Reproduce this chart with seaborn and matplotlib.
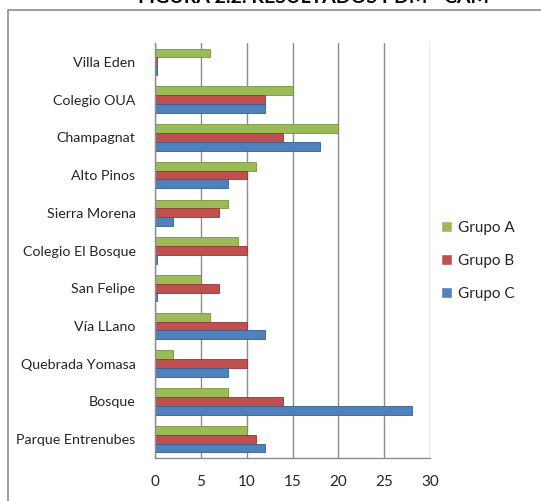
import matplotlib
matplotlib.use("Agg")
import matplotlib.pyplot as plt
import seaborn as sns
import pandas as pd
from matplotlib.patches import Rectangle

categories = ["Villa Eden", "Colegio OUA", "Champagnat", "Alto Pinos", "Sierra Morena",
              "Colegio El Bosque", "San Felipe", "Vía LLano", "Quebrada Yomasa",
              "Bosque", "Parque Entrenubes"]
grupo_a = [6, 15, 20, 11, 8, 9, 5, 6, 2, 8, 10]
grupo_b = [0.2, 12, 14, 10, 7, 10, 7, 10, 10, 14, 11]
grupo_c = [0.2, 12, 18, 8, 2, 0.2, 0.2, 12, 8, 28, 12]
series_names = ["Grupo A", "Grupo B", "Grupo C"]
x_ticks = [0, 5, 10, 15, 20, 25, 30]
title = "FIGURA 2.2. RESULTADOS PDM - CAM"

rows = []
for name, vals in zip(series_names, [grupo_a, grupo_b, grupo_c]):
    for c, v in zip(categories, vals):
        rows.append({"Sitio": c, "Valor": v, "Grupo": name})
df = pd.DataFrame(rows)

sns.set_theme(style="white")
plt.rcParams["font.family"] = ["Lato", "DejaVu Sans"]

colors = {"Grupo A": "#9BBB59", "Grupo B": "#C0504D", "Grupo C": "#4F81BD"}
edges = {"Grupo A": "#76923C", "Grupo B": "#943634", "Grupo C": "#365F91"}

fig = plt.figure(figsize=(5.41, 5.01), dpi=100)
ax = fig.add_axes([155 / 541, 1 - 458 / 501, (430 - 155) / 541, (458 - 43) / 501])

sns.barplot(data=df, y="Sitio", x="Valor", hue="Grupo", order=categories,
            hue_order=series_names, palette=colors, orient="h", width=0.7,
            ax=ax, legend=True, saturation=1)

for cont, name in zip(ax.containers, series_names):
    for bar in cont:
        bar.set_edgecolor(edges[name])
        bar.set_linewidth(0.6)

ax.set_xlim(0, 30)
ax.set_xticks(x_ticks)
ax.set_xticklabels([str(t) for t in x_ticks], fontsize=11)
ax.set_ylim(len(categories) - 0.5, -0.5)
ax.set_xlabel("")
ax.set_ylabel("")
ax.tick_params(axis="y", length=0, labelsize=10.3, pad=14)
ax.tick_params(axis="x", length=4, color="#888888", labelsize=11, pad=8)
ax.xaxis.grid(True, color="#8c8c8c", linewidth=1.0)
ax.set_axisbelow(True)
for s in ["top", "right"]:
    ax.spines[s].set_visible(False)
for s in ["left", "bottom"]:
    ax.spines[s].set_color("#8c8c8c")
    ax.spines[s].set_linewidth(1.0)
ax.set_yticks([i + 0.5 for i in range(-1, len(categories))], minor=True)
ax.tick_params(axis="y", which="minor", length=5, color="#8c8c8c", direction="out")

leg = ax.legend(loc="center left", bbox_to_anchor=(0.99, 0.475), frameon=False,
                fontsize=11, handlelength=0.7, handleheight=0.7,
                handletextpad=0.4, labelspacing=1.25)

fig.patches.append(Rectangle((8 / 541, -0.1), 1.2, 1 - 10 / 501 + 0.1,
                             transform=fig.transFigure, fill=False,
                             edgecolor="#8c8c8c", linewidth=1.2))
fig.text(314 / 541, 1 - 3 / 501, title, ha="center", va="baseline",
         fontsize=14, fontweight="bold", color="black")

fig.savefig("out.png", dpi=100)
